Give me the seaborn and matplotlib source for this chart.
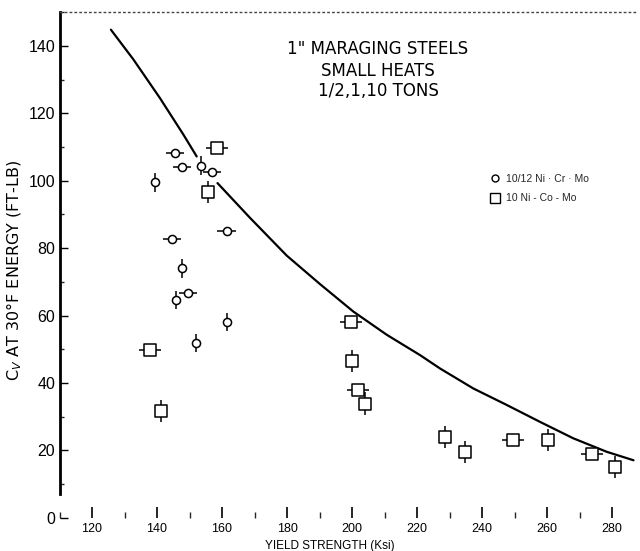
import numpy as np
import pandas as pd
import seaborn as sns
import matplotlib.pyplot as plt
from matplotlib.lines import Line2D
from matplotlib.ticker import MultipleLocator

# --- Trend curve: Charpy energy vs yield strength (two pieces, broken around 155 ksi)
curve_ys = [125.8, 132.7, 140.9, 148.1, 152.2,
            158.6, 168.6, 179.9, 190.2, 200.4, 210.7, 220.9, 227.1,
            237.3, 247.6, 257.8, 268.1, 278.4, 286.6]
curve_cv = [144.8, 136.0, 124.5, 113.7, 107.2,
            99.3, 89.0, 77.8, 69.3, 61.2, 54.3, 48.3, 44.3,
            38.4, 33.5, 28.5, 23.6, 19.6, 17.1]
curve_piece = [0, 0, 0, 0, 0] + [1] * 14

# --- 10/12 Ni-Cr-Mo heats (circles) with scatter bars
crmo_ys = [145.5, 147.6, 153.5, 156.8, 139.4, 161.4, 144.5, 147.6, 145.8, 149.6, 161.6, 152.0]
crmo_cv = [108.1, 104.2, 104.5, 102.5, 99.5, 85.0, 82.6, 74.0, 64.7, 66.6, 58.0, 51.8]
crmo_xerr = [2.8, 2.8, 0.0, 2.8, 0.0, 2.8, 2.8, 0.0, 0.0, 2.8, 0.0, 0.0]
crmo_yerr = [0.0, 0.0, 2.7, 0.0, 2.7, 0.0, 0.0, 2.7, 2.7, 0.0, 2.7, 2.7]

# --- 10 Ni-Co-Mo heats (squares) with scatter bars
como_ys = [158.4, 155.6, 137.8, 141.1, 199.6, 199.9, 201.9, 204.0, 228.5, 234.8, 249.6, 260.4, 273.7, 280.9]
como_cv = [109.6, 96.6, 49.8, 31.7, 58.2, 46.5, 37.9, 33.9, 24.0, 19.6, 23.1, 23.1, 19.1, 15.1]
como_xerr = [3.4, 0.0, 3.4, 0.0, 3.4, 0.0, 3.4, 0.0, 0.0, 0.0, 3.4, 0.0, 3.4, 0.0]
como_yerr = [0.0, 3.3, 0.0, 3.3, 0.0, 3.3, 0.0, 3.3, 3.3, 3.3, 0.0, 3.3, 0.0, 3.3]

x_ticks = [120, 140, 160, 180, 200, 220, 240, 260, 280]
y_ticks = [0, 20, 40, 60, 80, 100, 120, 140]
title_lines = ['1" MARAGING STEELS', 'SMALL HEATS', '1/2,1,10 TONS']

sns.set_theme(style="white")
plt.rcParams['font.family'] = ['Liberation Sans Narrow', 'Liberation Sans', 'DejaVu Sans']

fig = plt.figure(figsize=(6.4, 5.51), dpi=100)
ax = fig.add_axes([0.093, 0.060, 0.904, 0.918])

curve_df = pd.DataFrame({'ys': curve_ys, 'cv': curve_cv, 'piece': curve_piece})
sns.lineplot(data=curve_df, x='ys', y='cv', units='piece', estimator=None,
             sort=False, color='black', linewidth=1.6, ax=ax, legend=False, zorder=1)

# scatter bars
ax.errorbar(crmo_ys, crmo_cv, xerr=crmo_xerr, yerr=crmo_yerr, fmt='none',
            ecolor='black', elinewidth=1.1, capsize=0, zorder=2)
ax.errorbar(como_ys, como_cv, xerr=como_xerr, yerr=como_yerr, fmt='none',
            ecolor='black', elinewidth=1.1, capsize=0, zorder=2)

sns.scatterplot(x=crmo_ys, y=crmo_cv, marker='o', s=34, facecolor='white',
                edgecolor='black', linewidth=1.1, ax=ax, zorder=3)
sns.scatterplot(x=como_ys, y=como_cv, marker='s', s=70, facecolor='white',
                edgecolor='black', linewidth=1.1, ax=ax, zorder=3)

ax.set_xlim(110, 288)
ax.set_ylim(0, 150)
ax.set_xticks(x_ticks)
ax.set_yticks(y_ticks)
ax.set_xticklabels([str(v) for v in x_ticks])
ax.set_yticklabels([str(v) for v in y_ticks])
ax.xaxis.set_minor_locator(MultipleLocator(10))
ax.yaxis.set_minor_locator(MultipleLocator(10))
ax.tick_params(axis='x', which='major', direction='in', length=8, width=1.2,
               pad=4, labelsize=9, colors='black', bottom=True)
ax.tick_params(axis='x', which='minor', direction='in', length=4, width=1.0,
               bottom=True)
ax.tick_params(axis='y', which='major', direction='in', length=6, width=1.0,
               pad=3, labelsize=11.5, colors='black', left=True)
ax.tick_params(axis='y', which='minor', direction='in', length=3, width=1.0,
               left=True)

for side in ['right', 'bottom']:
    ax.spines[side].set_visible(False)
ax.spines['left'].set_color('black')
ax.spines['left'].set_linewidth(2.0)
ax.spines['left'].set_bounds(7, 150)
ax.spines['top'].set_color('#444444')
ax.spines['top'].set_linewidth(1.0)
ax.spines['top'].set_linestyle((0, (1, 2.5)))

ax.set_xlabel('YIELD STRENGTH (Ksi)', fontsize=8.5, color='black')
ax.xaxis.set_label_coords(0.468, -0.043)
ax.set_ylabel(r'C$_V$ AT 30°F ENERGY (FT-LB)', fontsize=11.5, color='black',
              family=['DejaVu Sans'])
ax.yaxis.set_label_coords(-0.062, 0.49)

title_y = [49, 71, 91]
for txt, py in zip(title_lines, title_y):
    fig.text(378 / 640, 1 - py / 551, txt, ha='center', va='center',
             fontsize=12, color='black', family=['DejaVu Sans'])

handles = [
    Line2D([], [], marker='o', ls='none', mfc='none', mec='black', ms=5, mew=1.0),
    Line2D([], [], marker='s', ls='none', mfc='none', mec='black', ms=7, mew=1.0),
]
ax.legend(handles, ['10/12 Ni · Cr · Mo', '10 Ni - Co - Mo'],
          loc='upper left', bbox_to_anchor=(490 / 640, 1 - 174 / 551),
          bbox_transform=fig.transFigure, frameon=False, fontsize=7.5,
          handlelength=1.0, handletextpad=0.5, labelspacing=0.9,
          borderpad=0, borderaxespad=0)

fig.savefig('out.png', dpi=100)
